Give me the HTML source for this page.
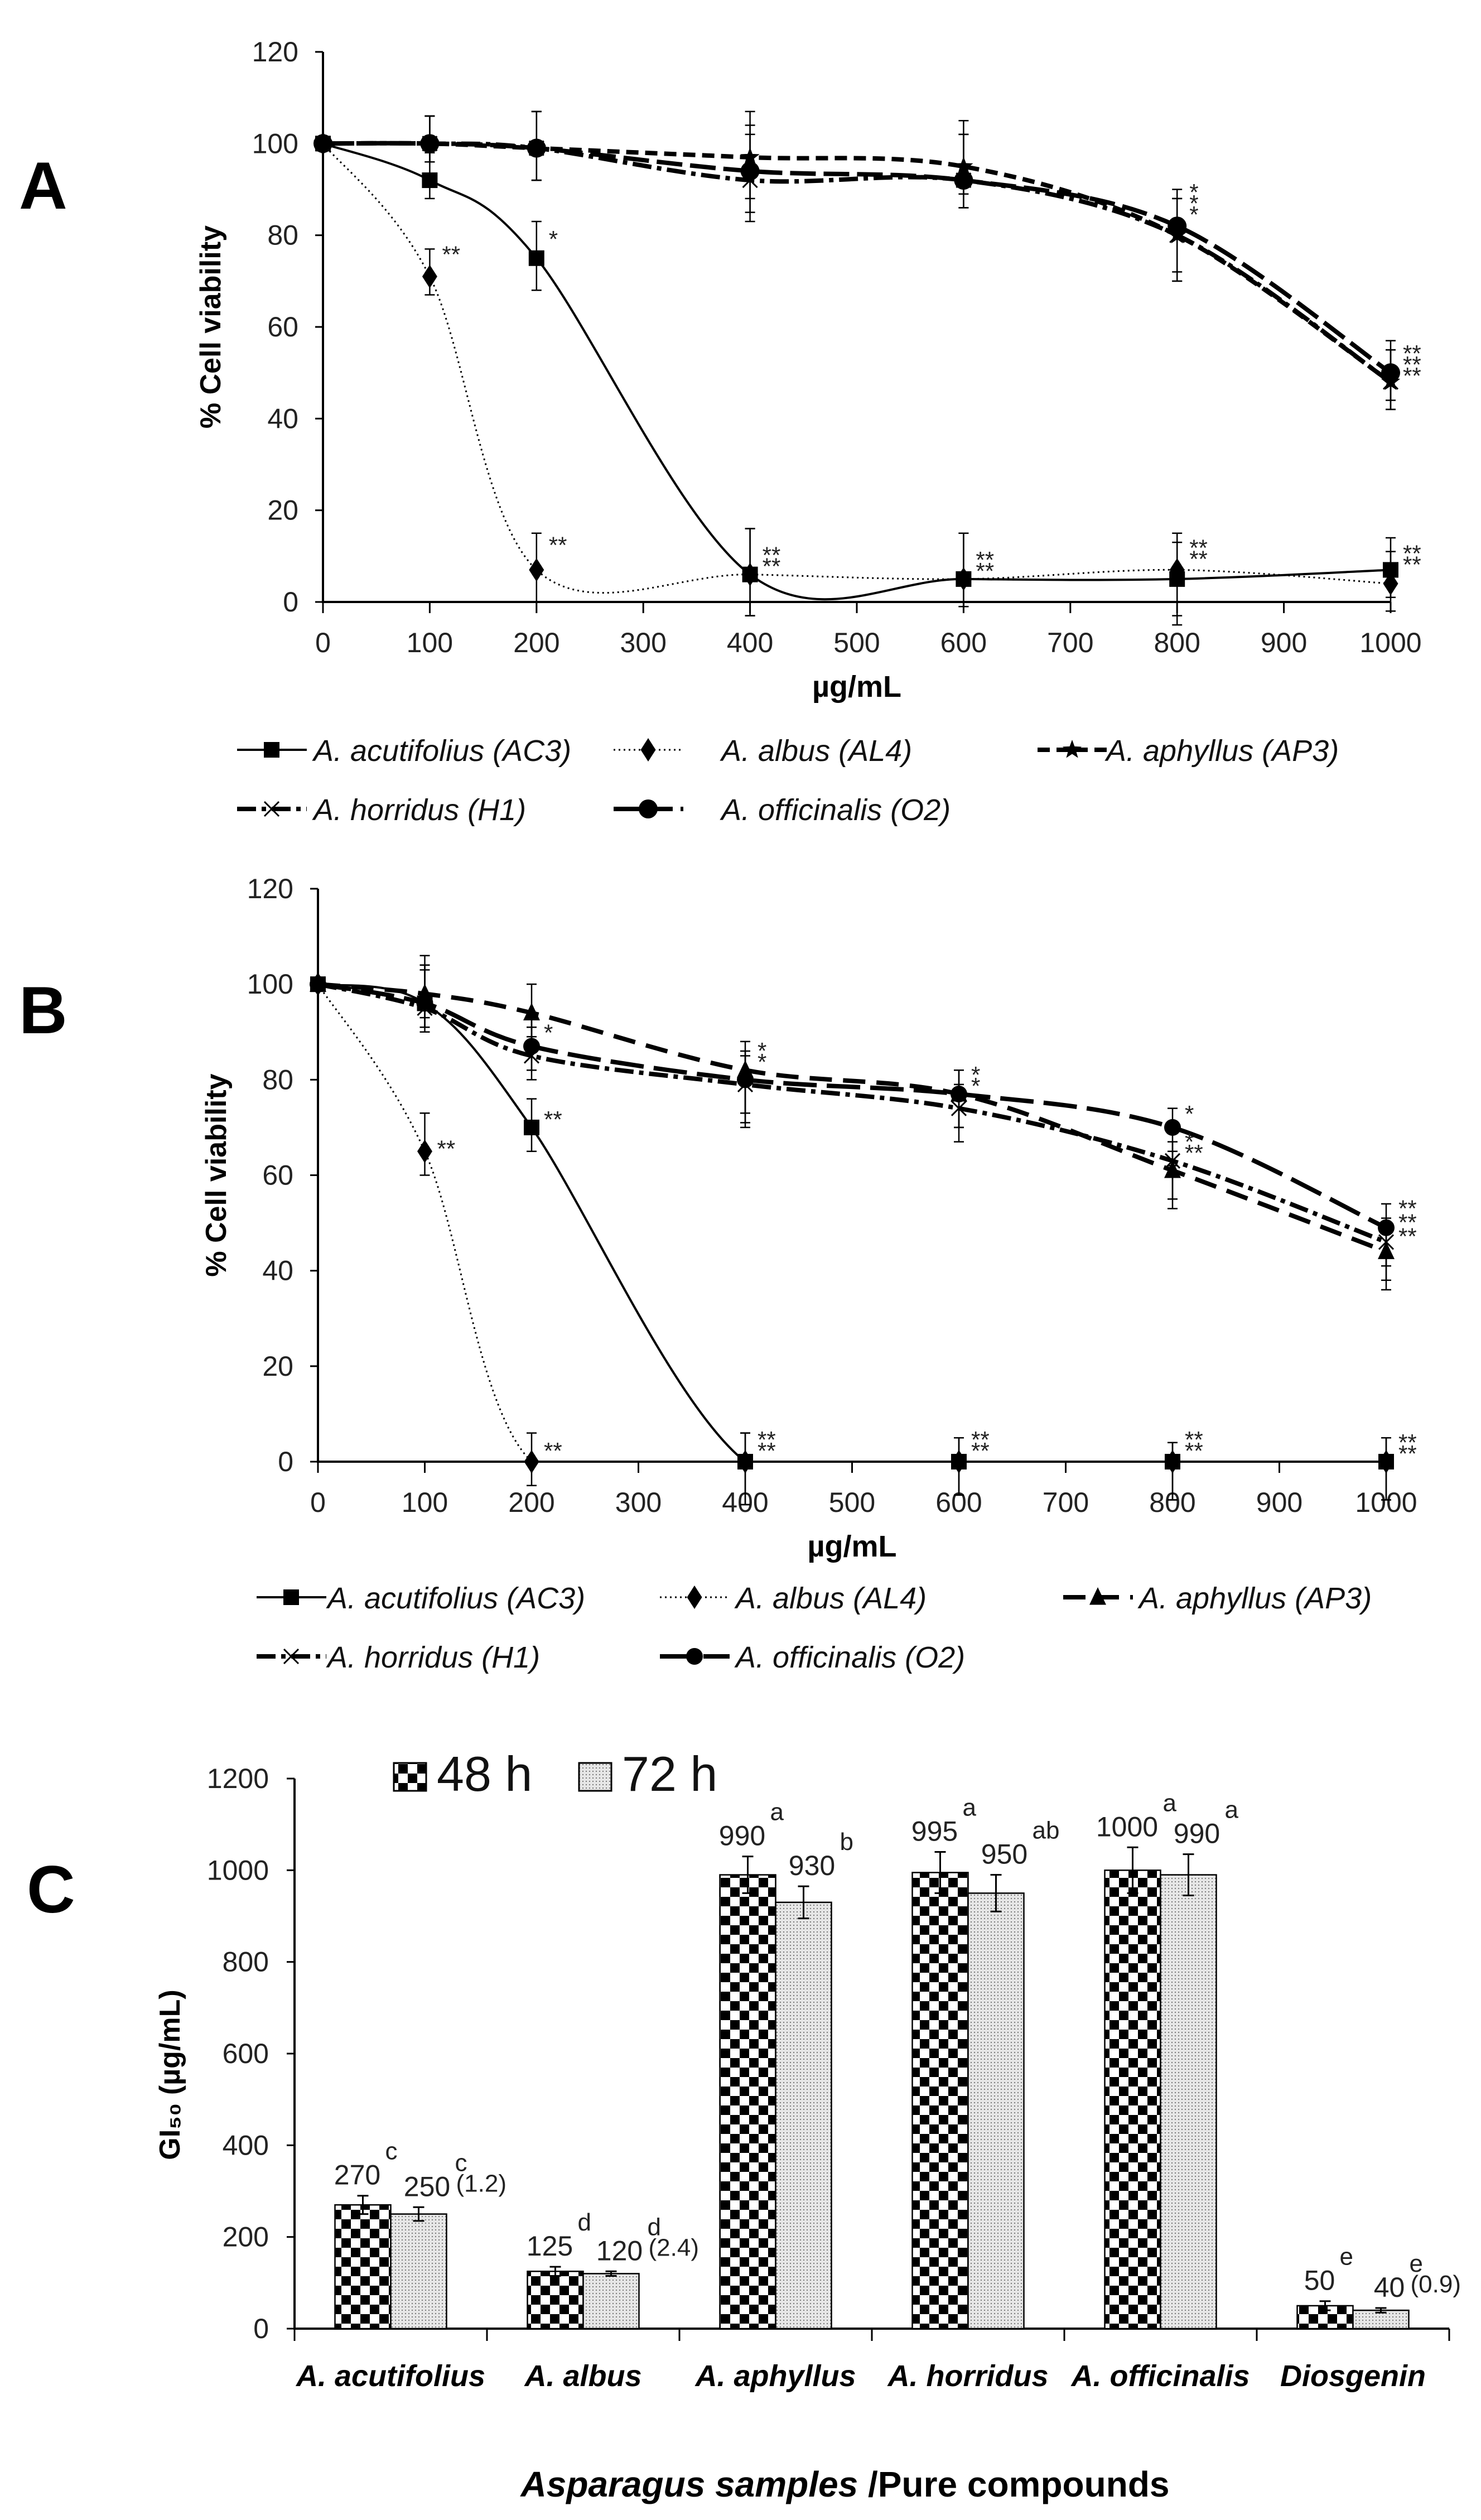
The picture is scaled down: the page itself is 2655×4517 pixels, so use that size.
<!DOCTYPE html>
<html><head><meta charset="utf-8"><style>
html,body{margin:0;padding:0;background:#fff;}
svg{display:block;font-family:"Liberation Sans",sans-serif;}
.tick{font-size:50px;fill:#222;}
.lg{font-size:54px;font-style:italic;fill:#111;}
</style></head><body>
<svg id="fig" width="2655" height="4517" viewBox="0 0 2655 4517" xmlns="http://www.w3.org/2000/svg">
<defs>
<pattern id="checker" width="34" height="34" patternUnits="userSpaceOnUse"><rect width="34" height="34" fill="#fff"/><rect width="17" height="17" fill="#000"/><rect x="17" y="17" width="17" height="17" fill="#000"/></pattern>
<pattern id="dots" width="6" height="6" patternUnits="userSpaceOnUse"><rect width="6" height="6" fill="#e6e6e6"/><rect width="2" height="2" fill="#777"/></pattern>
</defs>
<g id="panelA"></g>
<g id="panelB"></g>
<g id="panelC"></g>
</svg>
<script>
// ---------- data ----------
const doses = [0,100,200,400,600,800,1000];
const yTicksLine = [0,20,40,60,80,100,120];
const xTicksLine = [0,100,200,300,400,500,600,700,800,900,1000];
const seriesNames = ["A. acutifolius (AC3)","A. albus (AL4)","A. aphyllus (AP3)","A. horridus (H1)","A. officinalis (O2)"];
// Panel A (48 h)
const aAC3 = [100,92,75,6,5,5,7];
const aAL4 = [100,71,7,6,5,7,4];
const aAP3 = [100,100,99,97,95,80,48];
const aH1  = [100,100,99,92,92,80,48];
const aO2  = [100,100,99,94,92,82,50];
const aErr = [0,4,7,9,6,10,6];
const aErrTop = [0,6,8,10,10,8,7];
// Panel B (72 h)
const bAC3 = [100,96,70,0,0,0,0];
const bAL4 = [100,65,0,0,0,0,0];
const bAP3 = [100,98,94,82,77,61,44];
const bH1  = [100,95,85,79,74,63,46];
const bO2  = [100,96,87,80,77,70,49];
const bErr = [0,5,5,9,7,8,8];
const bErrTop = [0,8,6,6,5,4,5];
// Panel C
const cCats = ["A. acutifolius","A. albus","A. aphyllus","A. horridus","A. officinalis","Diosgenin"];
const c48 = [270,125,990,995,1000,50];
const c72 = [250,120,930,950,990,40];
const c48Err = [20,10,40,45,50,10];
const c72Err = [15,5,35,40,45,5];
const c48Let = ["c","d","a","a","a","e"];
const c72Let = ["c","d","b","ab","a","e"];
const cRatio = ["(1.2)","(2.4)","","","","(0.9)"];
const cTicks = [0,200,400,600,800,1000,1200];

const NS="http://www.w3.org/2000/svg";
function mk(parent,tag,attrs,text){const e=document.createElementNS(NS,tag);for(const k in attrs)e.setAttribute(k,attrs[k]);if(text!==undefined)e.textContent=text;parent.appendChild(e);return e;}

function spline(pts,clampY){
  let d=`M${pts[0][0]},${pts[0][1]}`;
  const cl=v=>clampY===undefined?v:Math.min(v,clampY);
  for(let i=0;i<pts.length-1;i++){
    const p0=pts[Math.max(0,i-1)],p1=pts[i],p2=pts[i+1],p3=pts[Math.min(pts.length-1,i+2)];
    const t=1/6;
    const c1=[p1[0]+(p2[0]-p0[0])*t,cl(p1[1]+(p2[1]-p0[1])*t)];
    const c2=[p2[0]-(p3[0]-p1[0])*t,cl(p2[1]-(p3[1]-p1[1])*t)];
    d+=` C${c1[0]},${c1[1]} ${c2[0]},${c2[1]} ${p2[0]},${p2[1]}`;
  }
  return d;
}
function marker(g,type,x,y,s){
  let e;
  if(type==="square") e=mk(g,"rect",{x:x-s/2,y:y-s/2,width:s,height:s,fill:"#000"});
  else if(type==="diamond") e=mk(g,"polygon",{points:`${x},${y-s*0.7} ${x+s*0.45},${y} ${x},${y+s*0.7} ${x-s*0.45},${y}`,fill:"#000"});
  else if(type==="triangle") e=mk(g,"polygon",{points:`${x},${y-s*0.6} ${x+s*0.5},${y+s*0.45} ${x-s*0.5},${y+s*0.45}`,fill:"#000"});
  else if(type==="star"){let p=[];for(let i=0;i<10;i++){const r=i%2?s*0.25:s*0.6,a=-Math.PI/2+i*Math.PI/5;p.push(`${x+r*Math.cos(a)},${y+r*Math.sin(a)}`);}e=mk(g,"polygon",{points:p.join(" "),fill:"#000"});}
  else if(type==="x") e=mk(g,"path",{d:`M${x-s/2},${y-s/2}L${x+s/2},${y+s/2}M${x+s/2},${y-s/2}L${x-s/2},${y+s/2}`,stroke:"#000","stroke-width":3,fill:"none"});
  else e=mk(g,"circle",{cx:x,cy:y,r:s/2,fill:"#000"});
  
  
}

function linePanel(gid,P,series,errs,errTop,stars,letter,lgY){
  const g=document.getElementById(gid);
  const X=v=>P.x0+v*(P.x1-P.x0)/1000;
  const Y=v=>P.yb-v*(P.yb-P.yt)/120;
  const L=mk(g,"text",{x:P.letterX,y:P.letterY,"font-size":120,"font-weight":"bold"},letter);
  
  const ax=mk(g,"path",{d:`M${X(0)},${Y(120)}L${X(0)},${Y(0)}L${X(1000)},${Y(0)}`,stroke:"#000","stroke-width":4,fill:"none"});
  
  yTicksLine.forEach(v=>{
    mk(g,"line",{x1:X(0)-14,x2:X(0),y1:Y(v),y2:Y(v),stroke:"#000","stroke-width":3});
    const t=mk(g,"text",{x:X(0)-44,y:Y(v)+17,"text-anchor":"end",class:"tick"},v);
    
  });
  xTicksLine.forEach(v=>{
    mk(g,"line",{x1:X(v),x2:X(v),y1:Y(0),y2:Y(0)+20,stroke:"#000","stroke-width":3});
    const t=mk(g,"text",{x:X(v),y:Y(0)+90,"text-anchor":"middle",class:"tick"},v);
    
  });
  const xt=mk(g,"text",{x:(X(0)+X(1000))/2,y:Y(0)+170,"text-anchor":"middle","font-size":54,"font-weight":"bold"},"µg/mL");
  
  const ytl=mk(g,"text",{x:0,y:0,"text-anchor":"middle","font-size":52,"font-weight":"bold",transform:`translate(${P.ytX},${(Y(0)+Y(120))/2}) rotate(-90)`},"% Cell viability");
  
  series.forEach((s,si)=>{
    const sg=mk(g,"g",{});
    
    const pts=doses.map((d,i)=>[X(d),Y(s.vals[i])]);
    mk(sg,"path",{d:spline(pts,P.clamp?Y(0):undefined),stroke:"#000","stroke-width":s.w,"stroke-dasharray":s.dash,fill:"none"});
    doses.forEach((d,i)=>{
      if(i>0){const e=errs[i],et=errTop[i];
        mk(sg,"path",{d:`M${X(d)},${Y(s.vals[i]-e)}L${X(d)},${Y(s.vals[i]+et)}M${X(d)-9},${Y(s.vals[i]-e)}L${X(d)+9},${Y(s.vals[i]-e)}M${X(d)-9},${Y(s.vals[i]+et)}L${X(d)+9},${Y(s.vals[i]+et)}`,stroke:"#000","stroke-width":2.5,fill:"none"});}
      marker(sg,s.marker,X(d),Y(s.vals[i]),s.ms);
    });
  });
  stars.forEach(st=>{
    const t=mk(g,"text",{x:X(st[0])+22,y:Y(st[1])+st[3],"font-size":42,fill:"#222"},st[2]);
    
  });
  series.forEach((s,si)=>{
    const lx=P.lg[si][0],ly=lgY[si<3?0:1];
    const lg=mk(g,"g",{});
    
    mk(lg,"line",{x1:lx,x2:lx+125,y1:ly,y2:ly,stroke:"#000","stroke-width":s.w,"stroke-dasharray":s.dash});
    marker(lg,s.marker,lx+62,ly,s.ms);
    mk(lg,"text",{x:P.lg[si][1],y:ly+20,class:"lg"},seriesNames[si]);
  });
}

const seriesA=[
 {key:"ac3",vals:aAC3,marker:"square",ms:28,w:4,dash:"none"},
 {key:"al4",vals:aAL4,marker:"diamond",ms:30,w:3,dash:"3 6"},
 {key:"ap3",vals:aAP3,marker:"star",ms:30,w:8,dash:"22 12"},
 {key:"h1",vals:aH1,marker:"x",ms:26,w:8,dash:"34 10 8 10"},
 {key:"o2",vals:aO2,marker:"circle",ms:34,w:8,dash:"46 14"}];
const seriesB=[
 {key:"ac3",vals:bAC3,marker:"square",ms:28,w:4,dash:"none"},
 {key:"al4",vals:bAL4,marker:"diamond",ms:30,w:3,dash:"3 6"},
 {key:"ap3",vals:bAP3,marker:"triangle",ms:30,w:8,dash:"40 20"},
 {key:"h1",vals:bH1,marker:"x",ms:26,w:8,dash:"34 10 8 10"},
 {key:"o2",vals:bO2,marker:"circle",ms:30,w:8,dash:"60 18"}];
const starsA=[[100,71,"**",-25],[200,75,"*",-20],[200,7,"**",-30],[400,6,"**",-20],[400,6,"**",0],[600,5,"**",-20],[600,5,"**",0],[800,7,"**",-25],[800,7,"**",-5],[1000,7,"**",-15],[1000,7,"**",5],[800,84,"*",-30],[800,84,"*",-10],[800,84,"*",10],[1000,50,"**",-20],[1000,50,"**",0],[1000,50,"**",20]];
const starsB=[[100,65,"**",10],[200,70,"**",0],[200,0,"**",-5],[400,0,"**",-25],[400,0,"**",-5],[600,0,"**",-25],[600,0,"**",-5],[800,0,"**",-25],[800,0,"**",-5],[1000,0,"**",-20],[1000,0,"**",0],[200,87,"*",-10],[400,82,"*",-20],[400,82,"*",0],[600,77,"*",-20],[600,77,"*",0],[800,70,"*",-10],[800,63,"*",-20],[800,63,"**",0],[1000,49,"**",-20],[1000,49,"**",5],[1000,49,"**",30]];

linePanel("panelA",{x0:579,x1:2493,yb:1079,yt:93,letterX:34,letterY:374,ytX:395,
  lg:[[425,562],[1100,1293],[1860,1983],[425,562],[1100,1293]]},seriesA,aErr,aErrTop,starsA,"A",[1344,1450]);
linePanel("panelB",{x0:570,x1:2485,yb:2620,yt:1593,letterX:34,letterY:1852,ytX:405,clamp:true,
  lg:[[460,587],[1183,1319],[1906,2042],[460,587],[1183,1319]]},seriesB,bErr,bErrTop,starsB,"B",[2863,2969]);

// ---------- Panel C ----------
(function(){
  const g=document.getElementById("panelC");
  const x0=528,cw=345,yb=4174,ytop=3188;
  const Y=v=>yb-v*(yb-ytop)/1200;
  const C=i=>x0+cw*(i+0.5);
  const bw=100;
  const L=mk(g,"text",{x:48,y:3428,"font-size":120,"font-weight":"bold"},"C");
  
  const ax=mk(g,"path",{d:`M${x0},${Y(1200)}L${x0},${yb}L${x0+cw*6},${yb}`,stroke:"#000","stroke-width":4,fill:"none"});
  
  cTicks.forEach(v=>{
    mk(g,"line",{x1:x0-14,x2:x0,y1:Y(v),y2:Y(v),stroke:"#000","stroke-width":3});
    const t=mk(g,"text",{x:x0-46,y:Y(v)+17,"text-anchor":"end",class:"tick"},v);
    
  });
  for(let i=0;i<=6;i++) mk(g,"line",{x1:x0+cw*i,x2:x0+cw*i,y1:yb,y2:yb+22,stroke:"#000","stroke-width":3});
  cCats.forEach((c,i)=>{
    const t=mk(g,"text",{x:C(i),y:4277,"text-anchor":"middle","font-size":54,"font-style":"italic","font-weight":"bold"},c);
    
    [[c48,c48Err,"url(#checker)",-bw,c48Let,"48"],[c72,c72Err,"url(#dots)",0,c72Let,"72"]].forEach(([vals,err,fill,off,lets,nm],k)=>{
      const v=vals[i],bx=C(i)+off;
      const b=mk(g,"rect",{x:bx,y:Y(v),width:bw,height:yb-Y(v),fill:fill,stroke:"#000","stroke-width":2.5});
      
      const cx=bx+bw/2;
      mk(g,"path",{d:`M${cx},${Y(v-err[i])}L${cx},${Y(v+err[i])}M${cx-10},${Y(v-err[i])}L${cx+10},${Y(v-err[i])}M${cx-10},${Y(v+err[i])}L${cx+10},${Y(v+err[i])}`,stroke:"#000","stroke-width":3,fill:"none"});
      const ly=Y(v+err[i])-20;
      const vl=mk(g,"text",{x:cx+(k?15:-10),y:ly,"text-anchor":"middle","font-size":50,fill:"#222"},v);
      
      const w=String(v).length*14;
      mk(g,"text",{x:cx+(k?15:-10)+w+8,y:ly-45,"font-size":44,fill:"#222"},lets[i]);
      if(k&&cRatio[i]) mk(g,"text",{x:cx+15+w+10,y:ly-8,"font-size":44,fill:"#222"},cRatio[i]);
    });
  });
  const ytl=mk(g,"text",{x:0,y:0,"text-anchor":"middle","font-size":52,"font-weight":"bold",transform:`translate(322,3719) rotate(-90)`},"GI₅₀ (µg/mL)");
  
  const xt=mk(g,"text",{x:1515,y:4475,"text-anchor":"middle","font-size":64,"font-weight":"bold"});
  
  mk(xt,"tspan",{"font-style":"italic"},"Asparagus samples ");mk(xt,"tspan",{},"/Pure compounds");
  [["url(#checker)",706,783,"48 h"],["url(#dots)",1038,1115,"72 h"]].forEach(l=>{
    const lg=mk(g,"g",{});
    
    mk(lg,"rect",{x:l[1],y:3160,width:58,height:50,fill:l[0],stroke:"#000","stroke-width":3});
    mk(lg,"text",{x:l[2],y:3210,"font-size":88,fill:"#111"},l[3]);
  });
})();
</script>
</body></html>
